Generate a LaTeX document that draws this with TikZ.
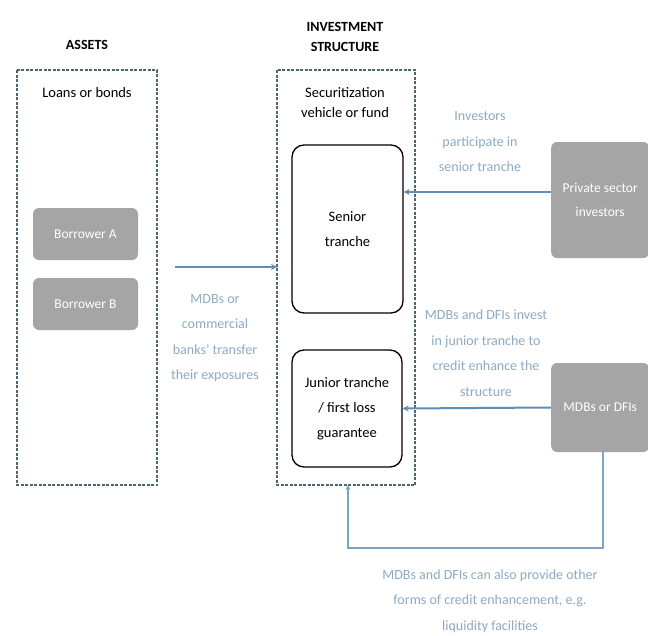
\documentclass[tikz,border=0pt]{standalone}
\usepackage{fontspec}
\setmainfont{Carlito}
\usetikzlibrary{arrows.meta}
\definecolor{lblue}{HTML}{8FAAC2}
\definecolor{abl}{HTML}{5E8DB6}
\definecolor{dbord}{HTML}{4E6473}
\definecolor{gbox}{HTML}{A5A5A5}
\begin{document}
\begin{tikzpicture}[x=1pt,y=-1pt,
  dashbox/.style={draw=dbord, line width=1.3pt, dash pattern=on 3pt off 1.5pt},
  graybox/.style={fill=gbox, rounded corners=6pt, text=white, font=\fontsize{13.5}{24}\selectfont, align=center},
  tranche/.style={draw=black, line width=1.3pt, rounded corners=12pt, fill=white, font=\fontsize{14.5}{25}\selectfont, align=center},
  lbl/.style={text=lblue, font=\fontsize{14}{25.5}\selectfont, align=center},
  ttl/.style={font=\bfseries\fontsize{14}{20}\selectfont, align=center},
  plain/.style={font=\fontsize{14.5}{20}\selectfont, align=center},
  conn/.style={draw=abl, line width=2pt, -{Stealth[length=6pt,width=6pt]}},
  conn2/.style={draw=abl!80, line width=1.5pt, -{Stealth[length=5pt,width=5pt]}}]
\useasboundingbox (0,0) rectangle (648,635);
\fill[white] (0,0) rectangle (648,635);
% boxes
\draw[dashbox] (17,70) rectangle (157,485);
\draw[dashbox] (277,70) rectangle (415,485);
\node[ttl] (assetsT) at (87,45) {ASSETS};
\node[ttl] (invT) at (345,37) {INVESTMENT\\STRUCTURE};
\node[plain] (loans) at (87,93) {Loans or bonds};
\node[plain] (secv) at (345,103) {Securitization\\vehicle or fund};
\coordinate (struct) at (277,267);
\coordinate (structbot) at (348,485);
\node[graybox, minimum width=105pt, minimum height=52pt] (bA) at (85.5,234) {Borrower A};
\node[graybox, minimum width=105pt, minimum height=52pt] (bB) at (85.5,304) {Borrower B};
\node[tranche, minimum width=111pt, minimum height=168pt] (senior) at (347.5,229) {Senior\\tranche};
\node[tranche, minimum width=110pt, minimum height=117pt] (junior) at (347,408.5) {Junior tranche\\/ first loss\\guarantee};
\node[graybox, minimum width=98pt, minimum height=116pt, anchor=west] (priv) at (551,200) {Private sector\\investors};
\node[graybox, minimum width=98pt, minimum height=89pt, anchor=west] (mdb) at (551,407.5) {MDBs or DFIs};
% labels
\node[lbl] (l1) at (480,142) {Investors\\participate in\\senior tranche};
\node[lbl] (l2) at (215,338) {MDBs or\\commercial\\banks' transfer\\their exposures};
\node[lbl] (l3) at (486,353) {MDBs and DFIs invest\\in junior tranche to\\credit enhance the\\structure};
\node[lbl] (l4) at (490,601) {MDBs and DFIs can also provide other\\forms of credit enhancement, e.g.\\liquidity facilities};
% connectors
\draw[conn] (175,267) -- (struct);
\draw[conn] (priv.west |- 0,192) -- (senior.east |- 0,192);
\draw[conn] (mdb.west) -- (junior.east);
\draw[conn2] (mdb.south -| 603,0) -- (603,548) -- (348,548) -- (structbot);
\end{tikzpicture}
\end{document}
